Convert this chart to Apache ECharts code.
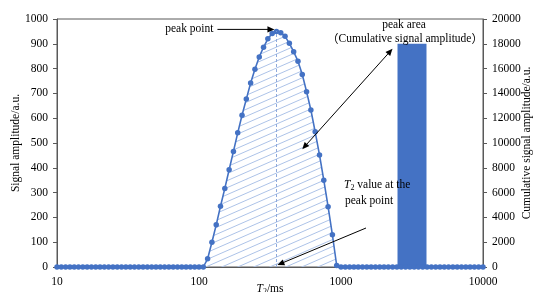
<!DOCTYPE html>
<html><head><meta charset="utf-8">
<script src="https://cdn.jsdelivr.net/npm/echarts@6/dist/echarts.min.js"></script>
<style>html,body{margin:0;padding:0;background:#fff}#c{width:536px;height:292px}</style>
</head><body><div id="c"></div>
<script>
// T2 relaxation times (ms), log-spaced bins
const t2 = [10,10.72,11.5,12.33,13.22,14.17,15.2,16.3,17.48,18.74,20.09,21.54,23.1,24.77,26.56,28.48,30.54,32.75,35.11,37.65,40.37,43.29,46.42,49.77,53.37,57.22,61.36,65.79,70.55,75.65,81.11,86.97,93.26,
100,107.2,115,123.3,132.2,141.7,152,163,174.8,187.4,200.9,215.4,231,247.7,265.6,284.8,305.4,327.5,351.1,376.5,403.7,432.9,464.2,497.7,533.7,572.2,613.6,657.9,705.5,756.5,811.1,869.7,932.6,
1000,1072,1150,1233,1322,1417,1520,1630,1748,1874,2009,2154,2310,2477,2656,2848,3054,3275,3511,3765,4037,4329,4642,4977,5337,5722,6136,6579,7055,7565,8111,8697,9326,10000];
// Signal amplitude (a.u.)
const amplitude = [0,0,0,0,0,0,0,0,0,0,0,0,0,0,0,0,0,0,0,0,0,0,0,0,0,0,0,0,0,0,0,0,0,
0,0,33,100,170,245,317,392,466,541,612,677,742,797,847,886,920,942,950,945,930,902,868,830,776,707,633,545,452,350,243,130,6,
0,0,0,0,0,0,0,0,0,0,0,0,0,0,0,0,0,0,0,0,0,0,0,0,0,0,0,0,0,0,0,0,0,0];
// Cumulative signal amplitude bar: [start T2, end T2, value]
const barStart = [2500];
const barEnd = [4000];
const cumulative = [18000];
const xTicks = [10, 100, 1000, 10000];
const leftTicks = [0, 1000, 100];
const rightTicks = [0, 20000, 2000];

const FONT = "'Liberation Serif','Times New Roman',serif";
const CJK = "'Noto Sans CJK SC'";
const AXC = '#595959';
const BLUE = '#4472c4';

function hatch() {
  const c = document.createElement('canvas');
  c.width = 32; c.height = 14;
  const g = c.getContext('2d');
  g.strokeStyle = '#adc3e8'; g.lineWidth = 1;
  for (let k = -1; k <= 6; k++) {
    g.beginPath(); g.moveTo(0, 7 * k); g.lineTo(32, 7 * k - 14); g.stroke();
  }
  return c;
}

let peakIdx = 0;
amplitude.forEach((v, i) => { if (v > amplitude[peakIdx]) peakIdx = i; });

const lineData = t2.map((x, i) => [x, amplitude[i]]);
const barData = barStart.map((s, i) => [s, barEnd[i], cumulative[i]]);

const chart = echarts.init(document.getElementById('c'), null, {renderer: 'canvas'});
const plain = v => String(Math.round(v));
const axisBase = {
  axisLine: {show: true, lineStyle: {color: AXC, width: 1}},
  splitLine: {show: false},
  nameMoveOverlap: false,
  axisLabel: {color: '#000', fontFamily: FONT, fontSize: 11.5, formatter: plain},
  nameTextStyle: {color: '#000', fontFamily: FONT, fontSize: 11.5}
};
chart.setOption({
  animation: false,
  grid: {left: 57, right: 53, top: 19, bottom: 25, containLabel: false, outerBoundsMode: 'none',
         show: true, borderColor: AXC, borderWidth: 1},
  xAxis: Object.assign({}, axisBase, {
    type: 'log', logBase: 10, min: xTicks[0], max: xTicks[xTicks.length - 1],
    axisTick: {show: false}, minorTick: {show: false},
    axisLabel: Object.assign({}, axisBase.axisLabel, {margin: 9}),
    name: '{i|T}{s|2}{n|/ms}', nameLocation: 'middle', nameGap: 15,
    nameTextStyle: {color: '#000', fontFamily: FONT, fontSize: 11.5, verticalAlign: 'top',
      rich: {i: {fontStyle: 'italic', fontFamily: FONT, fontSize: 11.5, color: '#000'},
             s: {fontFamily: FONT, fontSize: 8, color: '#000', padding: [6, 0, 0, 0]},
             n: {fontFamily: FONT, fontSize: 11.5, color: '#000'}}}
  }),
  yAxis: [
    Object.assign({}, axisBase, {
      type: 'value', min: leftTicks[0], max: leftTicks[1], interval: leftTicks[2],
      axisTick: {show: true, inside: false, length: 4, lineStyle: {color: AXC}},
      axisLabel: Object.assign({}, axisBase.axisLabel, {margin: 9}),
      name: 'Signal amplitude/a.u.', nameLocation: 'middle', nameGap: 35, nameRotate: 90
    }),
    Object.assign({}, axisBase, {
      type: 'value', min: rightTicks[0], max: rightTicks[1], interval: rightTicks[2], position: 'right',
      axisTick: {show: true, inside: false, length: 4, lineStyle: {color: AXC}},
      axisLabel: Object.assign({}, axisBase.axisLabel, {margin: 9}),
      name: 'Cumulative signal amplitude/a.u.', nameLocation: 'middle', nameGap: 38, nameRotate: 90
    })
  ],
  series: [
    {
      type: 'custom', yAxisIndex: 1, z: 1, data: barData,
      encode: {x: [0, 1], y: 2},
      renderItem: (params, api) => {
        const p0 = api.coord([api.value(0), api.value(2)]);
        const p1 = api.coord([api.value(1), 0]);
        return {type: 'rect', shape: {x: p0[0], y: p0[1], width: p1[0] - p0[0], height: p1[1] - p0[1]},
                style: {fill: BLUE}};
      }
    },
    {
      type: 'line', yAxisIndex: 0, z: 3, data: lineData,
      symbol: 'circle', symbolSize: 5.5, showSymbol: true, showAllSymbol: true,
      itemStyle: {color: BLUE}, lineStyle: {color: BLUE, width: 1.6},
      areaStyle: {color: {image: hatch(), repeat: 'repeat'}, opacity: 1},
      markLine: {
        silent: true, symbol: 'none', label: {show: false},
        lineStyle: {color: '#8faadc', type: [3, 2], width: 1},
        data: [[{coord: [t2[peakIdx], 0]}, {coord: [t2[peakIdx], amplitude[peakIdx]]}]]
      }
    }
  ]
});

function arrowHead(tip, from, size) {
  const dx = tip[0] - from[0], dy = tip[1] - from[1];
  const L = Math.hypot(dx, dy), ux = dx / L, uy = dy / L;
  const bx = tip[0] - ux * size, by = tip[1] - uy * size;
  const w = size * 0.45;
  return {type: 'polygon', shape: {points: [tip, [bx - uy * w, by + ux * w], [bx + uy * w, by - ux * w]]},
          style: {fill: '#000'}, z: 100};
}
function arrow(a, b, both) {
  const size = 7;
  const L = Math.hypot(b[0] - a[0], b[1] - a[1]);
  const ux = (b[0] - a[0]) / L, uy = (b[1] - a[1]) / L;
  const a2 = both ? [a[0] + ux * (size - 1), a[1] + uy * (size - 1)] : a;
  const b2 = [b[0] - ux * (size - 1), b[1] - uy * (size - 1)];
  const els = [{type: 'line', shape: {x1: a2[0], y1: a2[1], x2: b2[0], y2: b2[1]}, style: {stroke: '#000', lineWidth: 1}, z: 100},
               arrowHead(b, a, size)];
  if (both) els.push(arrowHead(a, b, size));
  return els;
}
const rich = {
  i: {fontStyle: 'italic', fontFamily: FONT, fontSize: 11.5, fill: '#000'},
  s: {fontFamily: FONT, fontSize: 8, fill: '#000', padding: [6, 0, 0, 0]},
  n: {fontFamily: FONT, fontSize: 11.5, fill: '#000'},
  p: {fontFamily: CJK, fontSize: 11.5, fill: '#000'}
};
function txt(x, y, s, align) {
  return {type: 'text', x: x, y: y, z: 100,
          style: {text: s, fill: '#000', font: '11.5px ' + FONT, textAlign: align || 'left', textVerticalAlign: 'middle', rich: rich}};
}

const peakPx = chart.convertToPixel({xAxisIndex: 0, yAxisIndex: 0}, [t2[peakIdx], amplitude[peakIdx]]);
const peakBase = chart.convertToPixel({xAxisIndex: 0, yAxisIndex: 0}, [t2[peakIdx], 0]);
const barTopLeft = chart.convertToPixel({xAxisIndex: 0, yAxisIndex: 1}, [barStart[0], cumulative[0]]);
const barCenter = chart.convertToPixel({xAxisIndex: 0, yAxisIndex: 1}, [Math.sqrt(barStart[0] * barEnd[0]), cumulative[0]]);
const areaPt = chart.convertToPixel({xAxisIndex: 0, yAxisIndex: 0}, [t2[peakIdx + 6], 475]);

const elements = []
  .concat([txt(peakPx[0] - 63, peakPx[1] - 2, '{n|peak point}', 'right')])
  .concat(arrow([peakPx[0] - 59, peakPx[1] - 2], [peakPx[0] - 2, peakPx[1] - 2], false))
  .concat([txt(barCenter[0] - 8, 25, '{n|peak area}', 'center'),
           txt(barCenter[0] - 7, 39, '{p|（}{n|Cumulative signal amplitude}{p|）}', 'center')])
  .concat(arrow(areaPt, [barTopLeft[0] - 5, barTopLeft[1] + 5], true))
  .concat([txt(344, 185, '{i|T}{s|2}{n| value at the}', 'left'),
           txt(345, 201, '{n|peak point}', 'left')])
  .concat(arrow([366, 228], [peakBase[0] + 1, peakBase[1] - 2], false));

chart.setOption({graphic: {elements: elements}});
</script></body></html>
